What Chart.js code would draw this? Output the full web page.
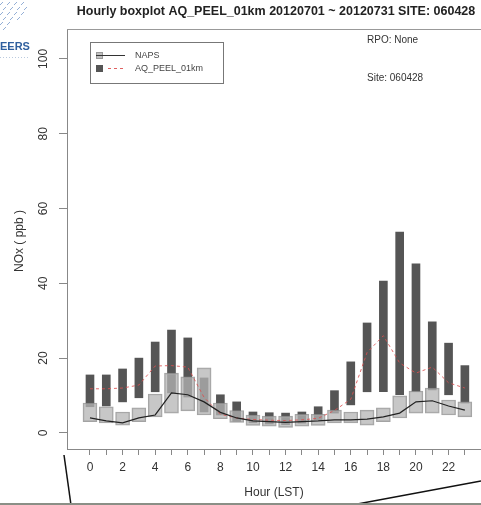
<!DOCTYPE html>
<html>
<head>
<meta charset="utf-8">
<script src="https://cdn.jsdelivr.net/npm/chart.js@4/dist/chart.umd.min.js"></script>
<style>
  body { margin: 0; background: #fff; }
  #wrap { width: 481px; height: 505px; position: relative; }
</style>
</head>
<body>
<div id="wrap"><canvas id="myChart"></canvas></div>
<script>
const hours = [0,1,2,3,4,5,6,7,8,9,10,11,12,13,14,15,16,17,18,19,20,21,22,23]
const yTicks = [0, 20, 40, 60, 80, 100]

// NAPS observations: quartiles and median per hour
const napsQ1  = [3.0,2.7,2.1,3.0,4.3,5.3,5.9,4.8,3.8,2.8,2.0,1.8,1.5,1.8,2.0,2.7,2.7,2.1,3.0,4.0,5.3,5.3,4.8,4.3]
const napsQ3  = [8.0,7.0,5.6,6.7,10.4,16.0,15.0,17.4,8.0,6.0,4.8,4.5,4.5,5.0,5.0,6.1,5.6,6.1,6.7,9.9,11.2,12.0,8.8,8.3]
const napsMed = [4.0,3.2,2.7,4.0,4.8,10.7,10.2,8.3,5.5,4.0,3.2,3.0,2.8,3.0,3.2,3.5,3.5,3.7,4.3,5.3,8.3,8.6,7.2,6.1]

// AQ_PEEL_01km model: quartiles and median per hour
const modQ1  = [7.0,7.2,8.3,9.4,11.0,10.7,9.6,5.6,4.8,3.0,2.7,2.4,2.2,2.6,3.5,5.3,7.5,11.0,11.0,10.2,11.0,11.5,10.2,8.0]
const modQ3  = [15.5,15.5,17.1,20.0,24.3,27.5,25.4,14.7,10.2,8.3,5.6,5.4,5.3,5.6,7.0,11.3,19.0,29.4,40.6,53.7,45.2,29.7,24.0,18.0]
const modMed = [11.8,11.8,12.0,12.8,17.9,18.0,17.6,9.5,5.0,4.0,3.6,3.4,3.3,3.5,3.9,6.0,9.0,21.5,26.0,18.7,16.0,17.6,13.4,12.0]

const FONT = '"Liberation Sans", Arial, sans-serif'

function boxes(q1, q3) { return hours.map((h, i) => ({ x: h, y: [q1[i], q3[i]] })) }
function medians(m) { return hours.map((h, i) => ({ x: h, y: m[i] })) }

// titles, legend, rotated y labels and the bits around the plot
const extras = {
  id: 'extras',
  afterDraw(chart) {
    const ctx = chart.ctx
    const area = chart.chartArea
    const ys = chart.scales.y
    ctx.save()

    // top frame line
    ctx.strokeStyle = '#999'
    ctx.lineWidth = 1
    ctx.beginPath()
    ctx.moveTo(area.left, area.top + 0.5)
    ctx.lineTo(area.right, area.top + 0.5)
    ctx.stroke()

    // title
    ctx.fillStyle = '#222'
    ctx.font = 'bold 12.5px ' + FONT
    ctx.textAlign = 'center'
    ctx.textBaseline = 'middle'
    ctx.fillText('Hourly boxplot AQ_PEEL_01km 20120701 ~ 20120731 SITE: 060428', 276, 12)

    ctx.font = '10px ' + FONT
    ctx.fillStyle = '#333'
    ctx.textAlign = 'left'
    ctx.fillText('RPO: None', 367, 40)
    ctx.fillText('Site: 060428', 367, 78)

    // y tick labels, rotated like R
    ctx.font = '12px ' + FONT
    ctx.fillStyle = '#333'
    ctx.textAlign = 'center'
    yTicks.forEach(v => {
      ctx.save()
      ctx.translate(44, ys.getPixelForValue(v))
      ctx.rotate(-Math.PI / 2)
      ctx.fillText(String(v), 0, 0)
      ctx.restore()
    })
    ctx.save()
    ctx.translate(20, 241)
    ctx.rotate(-Math.PI / 2)
    ctx.font = '12px ' + FONT
    ctx.fillText('NOx ( ppb )', 0, 0)
    ctx.restore()

    // legend
    ctx.strokeStyle = '#777'
    ctx.strokeRect(90.5, 42.5, 133, 41)
    ctx.fillStyle = 'rgba(185,185,185,0.9)'
    ctx.fillRect(96, 52, 7, 7)
    ctx.strokeStyle = '#999'
    ctx.strokeRect(96.5, 52.5, 6, 6)
    ctx.strokeStyle = '#333'
    ctx.beginPath(); ctx.moveTo(96, 55.5); ctx.lineTo(125, 55.5); ctx.stroke()
    ctx.fillStyle = '#555'
    ctx.fillRect(96, 65, 7, 7)
    ctx.strokeStyle = 'rgba(220,80,80,0.9)'
    ctx.setLineDash([3, 3])
    ctx.beginPath(); ctx.moveTo(108, 68.5); ctx.lineTo(126, 68.5); ctx.stroke()
    ctx.setLineDash([])
    ctx.fillStyle = '#444'
    ctx.font = '9px ' + FONT
    ctx.textAlign = 'left'
    ctx.fillText('NAPS', 135, 56)
    ctx.fillText('AQ_PEEL_01km', 135, 69)

    // logo fragment at the left edge
    ctx.fillStyle = '#2f5f9e'
    ctx.font = 'bold 11px ' + FONT
    ctx.fillText('EERS', 0, 47)
    ctx.strokeStyle = 'rgba(60,110,180,0.55)'
    for (let r = 0; r < 6; r++) {
      for (let c = 0; c < 4; c++) {
        const x0 = c * 7 + (r % 2) * 3
        const y0 = r * 5 + 2
        if (x0 + y0 > 34) continue
        ctx.beginPath(); ctx.moveTo(x0, y0 + 3); ctx.lineTo(x0 + 3, y0); ctx.stroke()
      }
    }
    ctx.strokeStyle = 'rgba(120,150,190,0.5)'
    ctx.setLineDash([1, 2])
    ctx.beginPath(); ctx.moveTo(0, 57.5); ctx.lineTo(28, 57.5); ctx.stroke()
    ctx.setLineDash([])

    // zoom inset lines below the plot
    ctx.strokeStyle = '#111'
    ctx.lineWidth = 1.5
    ctx.beginPath(); ctx.moveTo(64, 455); ctx.lineTo(71, 505); ctx.stroke()
    ctx.beginPath(); ctx.moveTo(352, 505); ctx.lineTo(481, 481); ctx.stroke()
    ctx.strokeStyle = '#8a8f86'
    ctx.lineWidth = 2
    ctx.beginPath(); ctx.moveTo(0, 504); ctx.lineTo(481, 504); ctx.stroke()

    ctx.restore()
  }
}

let myChart = document.getElementById('myChart').getContext('2d')
let boxChart = new Chart(myChart, {
  type: 'bar',
  data: {
    datasets: [
      {
        type: 'line', label: 'NAPS median', data: medians(napsMed), order: 0,
        borderColor: '#222', borderWidth: 1.2, pointRadius: 0, tension: 0
      },
      {
        type: 'line', label: 'AQ_PEEL_01km median', data: medians(modMed), order: 1,
        borderColor: 'rgba(220,80,80,0.85)', borderWidth: 1, borderDash: [3, 3], pointRadius: 0, tension: 0
      },
      {
        label: 'NAPS', data: boxes(napsQ1, napsQ3), order: 2,
        backgroundColor: 'rgba(180,180,180,0.75)', borderColor: 'rgba(140,140,140,0.8)',
        borderWidth: 1, borderSkipped: false, barThickness: 14
      },
      {
        label: 'AQ_PEEL_01km', data: boxes(modQ1, modQ3), order: 3,
        backgroundColor: '#555', borderWidth: 0, barThickness: 8
      }
    ]
  },
  options: {
    responsive: true,
    maintainAspectRatio: false,
    animation: false,
    grouped: false,
    layout: { padding: { top: 29, left: 0, right: 0, bottom: 0 } },
    plugins: { legend: { display: false }, tooltip: { enabled: false } },
    scales: {
      x: {
        type: 'linear', min: -1.41, max: 23.99, offset: false,
        afterBuildTicks: s => { s.ticks = hours.map(h => ({ value: h })) },
        afterFit: s => { s.height = 56 },
        ticks: {
          autoSkip: false, maxRotation: 0, padding: 5, color: '#333',
          font: { size: 12, family: FONT },
          callback: v => (v % 2 === 0 ? String(v) : '')
        },
        grid: { drawOnChartArea: false, offset: false, tickLength: 6, color: '#888' },
        border: { color: '#888' },
        title: { display: true, text: 'Hour (LST)', color: '#333', font: { size: 12, family: FONT }, padding: { top: 4, bottom: 5 } }
      },
      y: {
        min: -4.3, max: 108,
        afterBuildTicks: s => { s.ticks = yTicks.map(v => ({ value: v })) },
        afterFit: s => { s.width = 67 },
        ticks: { display: false },
        grid: { drawOnChartArea: false, tickLength: 8, color: '#888' },
        border: { color: '#888' }
      }
    }
  },
  plugins: [extras]
})
</script>
</body>
</html>
